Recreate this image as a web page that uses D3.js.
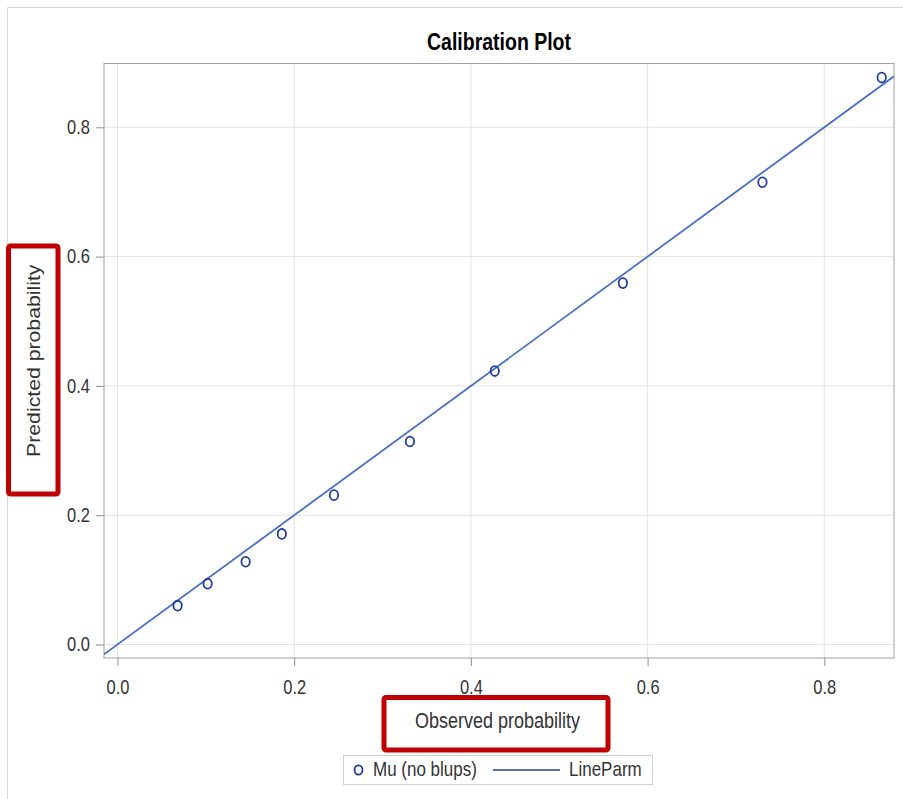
<!DOCTYPE html>
<html>
<head>
<meta charset="utf-8">
<script src="https://cdn.jsdelivr.net/npm/d3@7"></script>
<style>
	body { margin: 0; background: #fff; }
	text { font-family: "Liberation Sans", Arial, sans-serif; fill: #333; }
</style>
</head>
<body>
<div id="chart-area"></div>
<script>
// Data
// ****
const observed  = [0.068, 0.102, 0.145, 0.186, 0.245, 0.331, 0.427, 0.572, 0.730, 0.865]
const predicted = [0.060, 0.094, 0.128, 0.171, 0.231, 0.314, 0.423, 0.559, 0.715, 0.877]
const lineParm = {intercept: 0, slope: 1}
const xTicks = [0, 0.2, 0.4, 0.6, 0.8]
const yTicks = [0, 0.2, 0.4, 0.6, 0.8]
const legendLabels = ["Mu (no blups)", "LineParm"]

// Config
// ******
const W = 903, H = 799
const margin = {top: 63.5, right: 9, bottom: 141, left: 104}
const width = W - margin.left - margin.right, height = H - margin.top - margin.bottom
const stretch = 1.18   // the shot is a little taller than wide
const markColor = "#1f3e9e", lineColor = "#4a6fc4", red = "#c00000"

const svg = d3.select("#chart-area")
	.append("svg")
		.attr("width", W)
		.attr("height", H)

// page frame
svg.append("path")
	.attr("d", "M7.5," + H + "V7.5H" + W)
	.attr("fill", "none")
	.attr("stroke", "#d6d6d6")

const g = svg.append("g")
	.attr("transform", "translate(" + margin.left + ", " + margin.top + ")")

const x = d3.scaleLinear().domain([-0.0153, 0.8789]).range([0, width])
const y = d3.scaleLinear().domain([-0.0209, 0.8987]).range([height, 0])

// Grid
// ****
g.append("g").selectAll("line").data(xTicks).join("line")
	.attr("x1", d => x(d)).attr("x2", d => x(d))
	.attr("y1", 0).attr("y2", height)
	.attr("stroke", "#e3e3e3")
g.append("g").selectAll("line").data(yTicks).join("line")
	.attr("y1", d => y(d)).attr("y2", d => y(d))
	.attr("x1", 0).attr("x2", width)
	.attr("stroke", "#e3e3e3")

// Axes
// ****
const xAxis = d3.axisBottom(x).tickValues(xTicks).tickFormat(d3.format(".1f")).tickSize(8).tickPadding(11)
const yAxis = d3.axisLeft(y).tickValues(yTicks).tickFormat(d3.format(".1f")).tickSize(8).tickPadding(6)

const x_axis = g.append("g").attr("transform", "translate(0, " + height + ")").call(xAxis)
const y_axis = g.append("g").call(yAxis)

;[x_axis, y_axis].forEach(a => {
	a.select(".domain").remove()
	a.selectAll("line").attr("stroke", "#8c8c8c")
	a.selectAll("text")
		.attr("font-size", "16.5px")
		.style("font-family", "'Liberation Sans', Arial, sans-serif")
		.attr("fill", "#2a2a2a")
		.attr("transform", "scale(1," + stretch + ")")
})

// plot frame
g.append("rect")
	.attr("width", width).attr("height", height)
	.attr("fill", "none")
	.attr("stroke", "#a0a0a0")

// Marks
// *****
g.append("clipPath").attr("id", "clip")
	.append("rect").attr("width", width).attr("height", height)

const xd = x.domain()
g.append("line")
	.attr("clip-path", "url(#clip)")
	.attr("x1", x(xd[0])).attr("y1", y(lineParm.intercept + lineParm.slope * xd[0]))
	.attr("x2", x(xd[1])).attr("y2", y(lineParm.intercept + lineParm.slope * xd[1]))
	.attr("stroke", lineColor)
	.attr("stroke-width", 1.8)

g.append("g").selectAll("ellipse").data(observed).join("ellipse")
	.attr("cx", d => x(d))
	.attr("cy", (d, i) => y(predicted[i]))
	.attr("rx", 4.2)
	.attr("ry", 4.2 * stretch)
	.attr("fill", "none")
	.attr("stroke", markColor)
	.attr("stroke-width", 1.8)

// Labels
// ******
function label(px, py, str, size, weight, rot, color) {
	return svg.append("text")
		.attr("transform", "translate(" + px + "," + py + ")" + (rot ? " rotate(-90) scale(" + stretch + ",1)" : " scale(1," + stretch + ")"))
		.attr("text-anchor", "middle")
		.attr("font-size", size)
		.attr("font-weight", weight)
		.style("fill", color || "#333")
		.text(str)
}

label(margin.left + width / 2, 50, "Calibration Plot", "19.5px", "bold", false, "#000")
label(497.5, 728, "Observed probability", "18px", "normal")
label(40, margin.top + height / 2, "Predicted probability", "18px", "normal", true)

// highlight boxes
svg.append("rect")
	.attr("x", 8.5).attr("y", 246).attr("width", 49.5).attr("height", 248)
	.attr("rx", 2)
	.attr("fill", "none").attr("stroke", red).attr("stroke-width", 5)
svg.append("rect")
	.attr("x", 384).attr("y", 697.5).attr("width", 224).attr("height", 52.5)
	.attr("rx", 2)
	.attr("fill", "none").attr("stroke", red).attr("stroke-width", 5)

// Legend
// ******
const legend = svg.append("g")
legend.append("rect")
	.attr("x", 343.5).attr("y", 755.5).attr("width", 309).attr("height", 29)
	.attr("fill", "#fff").attr("stroke", "#cfcfcf")
legend.append("ellipse")
	.attr("cx", 358.5).attr("cy", 770).attr("rx", 4).attr("ry", 4 * stretch)
	.attr("fill", "none").attr("stroke", markColor).attr("stroke-width", 1.8)
legend.append("line")
	.attr("x1", 493).attr("x2", 560).attr("y1", 770).attr("y2", 770)
	.attr("stroke", markColor).attr("stroke-width", 1.6)
;[[373, legendLabels[0]], [569, legendLabels[1]]].forEach(([px, str]) => {
	legend.append("text")
		.attr("transform", "translate(" + px + ",776) scale(1," + stretch + ")")
		.attr("font-size", "17px")
		.text(str)
})
</script>
</body>
</html>
